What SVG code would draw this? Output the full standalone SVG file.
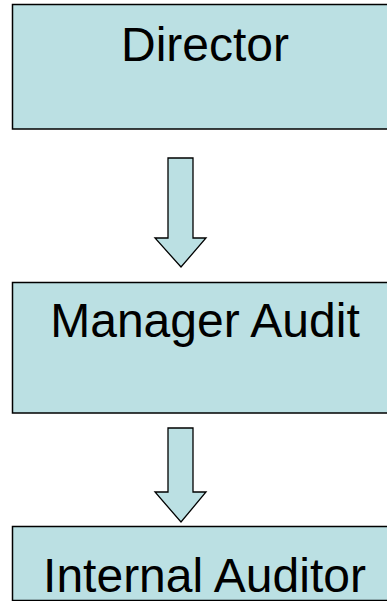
<svg xmlns="http://www.w3.org/2000/svg" width="387" height="601" viewBox="0 0 387 601">
  <style>
    .box { fill: #BBE0E3; stroke: #000000; stroke-width: 1.5; }
    .label { font-family: "Liberation Sans", Arial, sans-serif; font-size: 48px; fill: #000000; text-anchor: middle; }
    .arrow { fill: #BBE0E3; stroke: #000000; stroke-width: 1.3; stroke-linejoin: miter; }
  </style>
  <rect width="387" height="601" fill="#FFFFFF"/>

  <g id="director">
    <rect class="box" x="12.5" y="4.5" width="386" height="124.5"/>
    <text class="label" x="205" y="61">Director</text>
  </g>

  <g id="manager-audit">
    <rect class="box" x="12.5" y="282.5" width="386" height="130.5"/>
    <text class="label" x="205" y="337">Manager Audit</text>
  </g>

  <g id="internal-auditor">
    <rect class="box" x="12.5" y="526.5" width="386" height="74"/>
    <text class="label" x="204.5" y="592">Internal Auditor</text>
  </g>

  <g id="connectors">
    <polygon class="arrow" points="168,158 193,158 193,238 206,238 181,267 155,238 168,238"/>
    <polygon class="arrow" points="168,428 193,428 193,492 206,492 181,522 155,492 168,492"/>
  </g>
</svg>
